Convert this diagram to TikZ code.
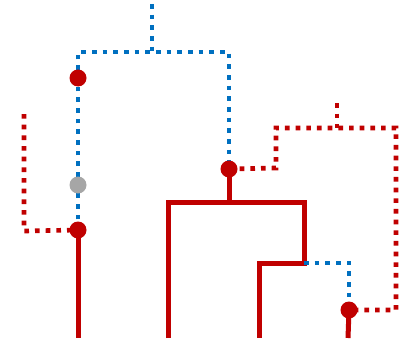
\documentclass[tikz,border=0pt]{standalone}
\usetikzlibrary{positioning,backgrounds}
\definecolor{TreeRed}{HTML}{C00000}
\definecolor{TreeBlue}{HTML}{0070C0}
\definecolor{TreeGray}{HTML}{A6A6A6}
\begin{document}
\begin{tikzpicture}[x=0.03cm,y=-0.03cm,
    branch/.style={draw=TreeRed,line width=0.15cm},
    redpath/.style={draw=TreeRed,line width=0.14cm,dash pattern=on 0.14cm off 0.18cm},
    bluepath/.style={draw=TreeBlue,line width=0.14cm,dash pattern=on 0.14cm off 0.18cm},
    event/.style={circle,fill=TreeRed,minimum size=0.51cm,inner sep=0pt}]
  \useasboundingbox (0,0) rectangle (404,341);
  % events
  \node[event]               (dup)   at (78,78)   {};
  \node[event,fill=TreeGray] (loss)  at (78,185)  {};
  \node[event]               (spa)   at (78,230)  {};
  \node[event]               (spb)   at (229,169) {};
  \node[event]               (spc)   at (349,310) {};
  % corners and free ends
  \coordinate (root)  at (152,4);
  \coordinate (rootj) at (152,52);
  \coordinate (bl)    at (78,52);
  \coordinate (br)    at (229,52);
  \coordinate (lend)  at (24,114);
  \coordinate (lcor)  at (24,231);
  \coordinate (rc1)   at (276,168);
  \coordinate (rc2)   at (276,128);
  \coordinate (rc3)   at (396,128);
  \coordinate (rc4)   at (396,310);
  \coordinate (rtop)  at (337,103);
  \coordinate (rtopj) at (337,128);
  \coordinate (sjoin) at (229,202);
  \coordinate (sl)    at (168,202);
  \coordinate (sr)    at (304,202);
  \coordinate (sm)    at (304,263);
  \coordinate (sml)   at (259,263);
  \coordinate (bc1)   at (349,263);
  \coordinate (leafa) at (78,338);
  \coordinate (leafb) at (168,338);
  \coordinate (leafc) at (259,338);
  \coordinate (leafd) at (348,338);
  \begin{scope}[on background layer]
    % species tree
    \draw[branch] (spa.center) -- (leafa);
    \draw[branch] (spb.center) -- (sjoin);
    \draw[branch] (leafb) -- (sl) -- (sr) -- (sm) -- (sml) -- (leafc);
    \draw[branch] (spc.center) -- (leafd);
    % gene paths
    \draw[bluepath] (root) -- (rootj);
    \draw[bluepath] (spa.center) -- (loss.center) -- (dup.center) -- (bl) -- (br) -- (spb.center);
    \draw[bluepath] (sm) -- (bc1) -- (spc.center);
    \draw[redpath] (lend) -- (lcor) -- (spa.center);
    \draw[redpath] (spb.center) -- (rc1) -- (rc2) -- (rc3) -- (rc4) -- (spc.center);
    \draw[redpath] (rtop) -- (rtopj);
  \end{scope}
\end{tikzpicture}
\end{document}
